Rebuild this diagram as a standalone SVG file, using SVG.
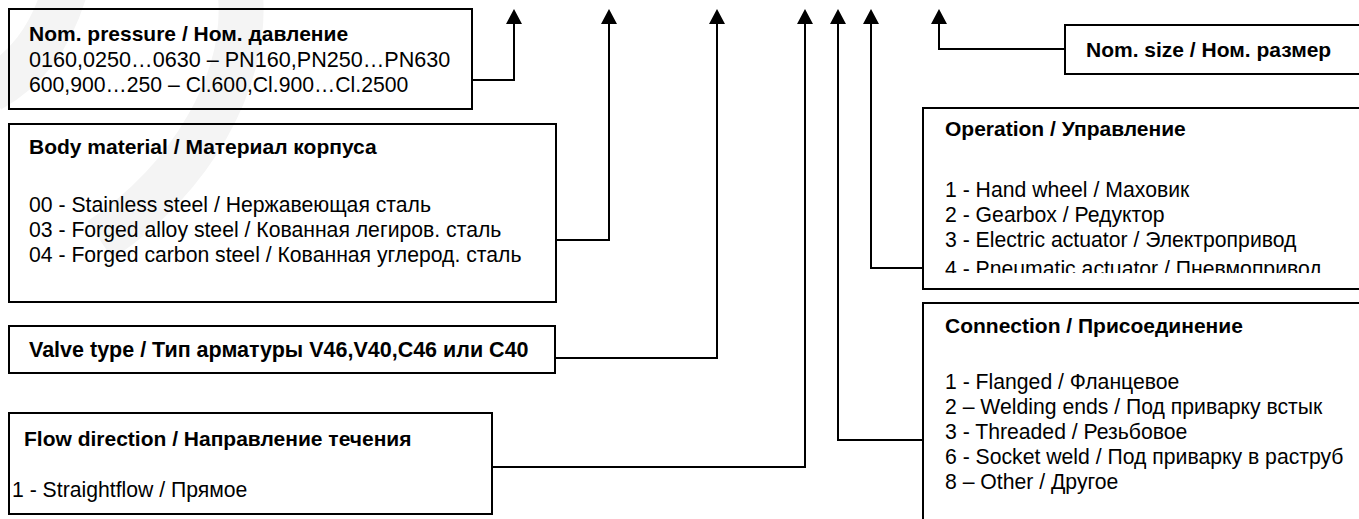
<svg xmlns="http://www.w3.org/2000/svg" width="1359" height="519" viewBox="0 0 1359 519">
<defs>
<style>
.box{fill:none;stroke:#000;stroke-width:2}
.t{font-family:"Liberation Sans",Arial,sans-serif;font-size:21.2px;fill:#000}
.b{font-weight:bold;font-size:21px}
.c{fill:none;stroke:#000;stroke-width:2}
.wm{fill:none;stroke:#f4f4f4;stroke-width:45}
</style>
<marker id="ah" viewBox="0 0 15 16" refX="2" refY="8" markerWidth="15" markerHeight="16" markerUnits="userSpaceOnUse" orient="auto">
<path d="M0,0 L15,8 L0,16 z" fill="#000"/>
</marker>
<clipPath id="opclip"><rect x="923" y="108" width="436" height="165"/></clipPath>
</defs>
<rect width="1359" height="519" fill="#fff"/>
<g id="watermark">
<path class="wm" d="M240,-10 C250,80 190,180 100,240"/>
<path class="wm" d="M65,-10 C50,40 25,70 -10,90"/>
</g>
<g id="connectors">
<path class="c" marker-end="url(#ah)" d="M472,80 H514 V22"/>
<path class="c" marker-end="url(#ah)" d="M556,240 H609 V22"/>
<path class="c" marker-end="url(#ah)" d="M555,358 H717 V22"/>
<path class="c" marker-end="url(#ah)" d="M492,467 H805 V22"/>
<path class="c" marker-end="url(#ah)" d="M923,440 H838 V22"/>
<path class="c" marker-end="url(#ah)" d="M923,268 H871 V22"/>
<path class="c" marker-end="url(#ah)" d="M1065,49 H939 V22"/>
</g>
<g id="nom-pressure">
<rect class="box" x="9" y="9" width="463" height="100"/>
<text class="t b" x="29" y="41">Nom. pressure / Ном. давление</text>
<text class="t" x="29" y="67" style="font-size:21.6px">0160,0250…0630 – PN160,PN250…PN630</text>
<text class="t" x="29" y="92">600,900…250 – Cl.600,Cl.900…Cl.2500</text>
</g>
<g id="body-material">
<rect class="box" x="9" y="124" width="547" height="178"/>
<text class="t b" x="29" y="154">Body material / Материал корпуса</text>
<text class="t" x="29" y="212">00 - Stainless steel / Нержавеющая сталь</text>
<text class="t" x="29" y="237">03 - Forged alloy steel / Кованная легиров. сталь</text>
<text class="t" x="29" y="262">04 - Forged carbon steel / Кованная углерод. сталь</text>
</g>
<g id="valve-type">
<rect class="box" x="9" y="326" width="546" height="47"/>
<text class="t b" x="29" y="357" style="font-size:21.5px">Valve type / Тип арматуры V46,V40,C46 или C40</text>
</g>
<g id="flow-direction">
<rect class="box" x="9" y="413" width="483" height="101"/>
<text class="t b" x="24" y="446">Flow direction / Направление течения</text>
<text class="t" x="12" y="497">1 - Straightflow / Прямое</text>
</g>
<g id="nom-size">
<rect class="box" x="1065" y="25" width="310" height="49"/>
<text class="t b" x="1086" y="57">Nom. size / Ном. размер</text>
</g>
<g id="operation">
<rect class="box" x="923" y="108" width="450" height="181"/>
<text class="t b" x="945" y="136">Operation / Управление</text>
<g clip-path="url(#opclip)">
<text class="t" x="945" y="197">1 - Hand wheel / Маховик</text>
<text class="t" x="945" y="222">2 - Gearbox / Редуктор</text>
<text class="t" x="945" y="247">3 - Electric actuator / Электропривод</text>
<text class="t" x="945" y="276">4 - Pneumatic actuator / Пневмопривод</text>
</g>
</g>
<g id="connection">
<rect class="box" x="923" y="303" width="450" height="230"/>
<text class="t b" x="945" y="333">Connection / Присоединение</text>
<text class="t" x="945" y="389">1 - Flanged / Фланцевое</text>
<text class="t" x="945" y="414">2 – Welding ends / Под приварку встык</text>
<text class="t" x="945" y="439">3 - Threaded / Резьбовое</text>
<text class="t" x="945" y="464">6 - Socket weld / Под приварку в раструб</text>
<text class="t" x="945" y="489">8 – Other / Другое</text>
</g>
</svg>
